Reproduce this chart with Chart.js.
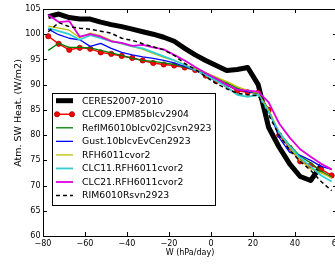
<!DOCTYPE html>
<html>
<head>
<meta charset="utf-8">
<script src="https://cdn.jsdelivr.net/npm/chart.js@4.4.1/dist/chart.umd.min.js"></script>
<style>
html,body{margin:0;padding:0;background:#fff;overflow:hidden;width:335px;height:264px;}
#wrap{position:relative;width:335px;height:264px;overflow:hidden;}
canvas{position:absolute;left:0;top:0;}
</style>
</head>
<body>
<div id="wrap"><canvas id="c" width="345" height="264" style="width:345px;height:264px"></canvas></div>
<script>
// W bins (hPa/day)
const wBins = [-77.5,-72.5,-67.5,-62.5,-57.5,-52.5,-47.5,-42.5,-37.5,-32.5,-27.5,-22.5,-17.5,-12.5,-7.5,-2.5,2.5,7.5,12.5,17.5,22.5,27.5,32.5,37.5,42.5,47.5,52.5,57.5];

const ceres   = [103.5,104.0,103.3,103.0,103.0,102.4,101.9,101.5,101.0,100.5,100.0,99.4,98.6,97.2,95.9,94.8,93.8,92.8,93.0,93.4,90.0,81.5,77.6,74.3,71.8,71.0,74.0,null];
const clc09   = [99.6,98.1,96.9,97.3,97.1,96.4,96.1,95.7,95.3,94.8,94.3,94.0,93.8,93.4,92.9,91.8,90.7,90.0,88.8,88.5,88.4,85.0,80.0,77.5,74.8,74.0,73.2,72.0];
const refim   = [96.8,98.2,97.4,97.4,97.3,96.8,96.3,95.8,95.2,94.8,94.6,94.3,94.0,93.5,92.9,92.3,91.3,90.4,89.3,88.6,88.2,84.5,80.5,78.0,75.8,74.5,72.8,71.7];
const gust    = [101.0,99.9,99.2,98.9,97.6,98.2,97.2,96.4,95.9,95.5,95.2,94.8,94.3,93.6,92.9,92.0,91.0,90.0,89.0,88.6,88.4,85.0,79.5,76.6,76.0,75.0,73.8,73.2];
const rfh     = [101.6,101.2,100.8,99.3,100.2,99.7,98.8,98.1,97.6,97.0,96.2,95.4,94.8,94.0,93.2,92.4,91.5,90.6,89.6,88.8,88.3,85.0,80.5,77.5,75.0,73.3,72.5,71.5];
const clc11   = [101.2,100.6,100.0,98.9,99.8,99.2,98.6,98.2,97.6,97.2,96.4,95.6,94.8,93.9,92.9,91.9,90.8,89.6,88.0,87.6,88.0,84.5,80.5,77.8,75.5,73.8,72.0,70.8];
const clc21   = [103.8,102.4,102.6,99.5,100.0,99.5,98.6,98.3,97.7,97.9,97.4,97.0,95.9,94.8,93.5,92.3,91.2,90.0,89.0,88.8,88.6,86.5,82.3,79.5,77.2,75.7,74.3,73.2];
const rim     = [100.5,102.3,101.5,101.2,101.0,100.6,100.2,99.2,98.8,98.1,97.5,96.9,95.8,94.2,93.0,91.6,90.2,89.2,88.3,88.0,87.8,84.0,80.0,77.0,74.8,73.0,70.8,69.0];

const seriesNames = ["CERES2007-2010","CLC09.EPM85blcv2904","RefIM6010blcv02JCsvn2923","Gust.10blcvEvCen2923","RFH6011cvor2","CLC11.RFH6011cvor2","CLC21.RFH6011cvor2","RIM6010Rsvn2923"];
const xTicks = [-80,-60,-40,-20,0,20,40,60];
const yTicks = [60,65,70,75,80,85,90,95,100,105];
const xTitle = "W (hPa/day)";
const yTitle = "Atm. SW Heat. (W/m2)";

const seriesValues = [ceres, clc09, refim, gust, rfh, clc11, clc21, rim];
const styles = [
  {color:'#000000', width:5, dash:[], marker:false},
  {color:'#ff0000', width:1.5, dash:[], marker:true},
  {color:'#008000', width:1.3, dash:[], marker:false},
  {color:'#0000ff', width:1.3, dash:[], marker:false},
  {color:'#bfbf00', width:1.3, dash:[], marker:false},
  {color:'#30d0d0', width:1.8, dash:[], marker:false},
  {color:'#dd00dd', width:1.8, dash:[], marker:false},
  {color:'#000000', width:1.5, dash:[4,3], marker:false}
];

const datasets = seriesValues.map((vals, i) => ({
  label: seriesNames[i],
  data: wBins.map((w, j) => ({x: w, y: vals[j]})),
  borderColor: styles[i].color,
  backgroundColor: styles[i].color,
  borderWidth: styles[i].width,
  borderDash: styles[i].dash,
  borderJoinStyle: 'round',
  borderCapStyle: 'butt',
  pointRadius: styles[i].marker ? 2.6 : 0,
  pointBackgroundColor: '#ff0000',
  pointBorderColor: '#aa0000',
  pointBorderWidth: 0.8,
  tension: 0,
  spanGaps: false,
  fill: false,
  order: seriesValues.length - i
}));

const fmt = v => (v < 0 ? '\u2212' + Math.abs(v) : String(v));

const framePlugin = {
  id: 'frame',
  afterDatasetsDraw(chart) {
    const ctx = chart.ctx, a = chart.chartArea;
    const xs = chart.scales.x, ys = chart.scales.y;
    ctx.save();
    ctx.strokeStyle = '#000';
    ctx.lineWidth = 1;
    ctx.setLineDash([]);
    ctx.strokeRect(Math.round(a.left) + 0.5, Math.round(a.top) + 0.5, Math.round(a.right - a.left), Math.round(a.bottom - a.top));
    ctx.beginPath();
    xTicks.forEach(v => {
      const px = Math.round(xs.getPixelForValue(v)) + 0.5;
      ctx.moveTo(px, a.bottom); ctx.lineTo(px, a.bottom - 4);
      ctx.moveTo(px, a.top); ctx.lineTo(px, a.top + 4);
    });
    yTicks.forEach(v => {
      const py = Math.round(ys.getPixelForValue(v)) + 0.5;
      ctx.moveTo(a.left, py); ctx.lineTo(a.left + 4, py);
      ctx.moveTo(a.right, py); ctx.lineTo(a.right - 4, py);
    });
    ctx.stroke();

    // legend
    const lx = 52.5, ly = 93.5, lw = 163, lh = 112;
    ctx.fillStyle = '#fff';
    ctx.fillRect(lx, ly, lw, lh);
    ctx.strokeRect(lx, ly, lw, lh);
    ctx.font = '9.3px "DejaVu Sans"';
    ctx.textBaseline = 'middle';
    ctx.textAlign = 'left';
    seriesNames.forEach((name, i) => {
      const yy = 100.7 + i * 13.55;
      const st = styles[i];
      ctx.beginPath();
      ctx.strokeStyle = st.color;
      ctx.lineWidth = st.width;
      ctx.setLineDash(st.dash);
      ctx.moveTo(56, yy); ctx.lineTo(73, yy);
      ctx.stroke();
      ctx.setLineDash([]);
      if (st.marker) {
        [57, 72].forEach(mx => {
          ctx.beginPath();
          ctx.arc(mx, yy, 2.6, 0, Math.PI * 2);
          ctx.fillStyle = '#ff0000';
          ctx.fill();
          ctx.lineWidth = 0.8;
          ctx.strokeStyle = '#aa0000';
          ctx.stroke();
        });
      }
      ctx.fillStyle = '#000';
      ctx.fillText(name, 82, yy + 0.5);
    });

    // axis titles
    ctx.fillStyle = '#000';
    ctx.font = '8px "DejaVu Sans"';
    ctx.textAlign = 'center';
    ctx.textBaseline = 'middle';
    ctx.fillText(xTitle, 190, 253);
    ctx.font = '9.5px "DejaVu Sans"';
    ctx.translate(19, 113);
    ctx.rotate(-Math.PI / 2);
    ctx.fillText(yTitle, 0, 0);
    ctx.restore();
  }
};

new Chart(document.getElementById('c'), {
  type: 'line',
  data: { datasets },
  plugins: [framePlugin],
  options: {
    responsive: false,
    animation: false,
    events: [],
    layout: { padding: { top: 9, left: 0, right: 0, bottom: 0 } },
    plugins: { legend: { display: false }, tooltip: { enabled: false }, title: { display: false } },
    scales: {
      x: {
        type: 'linear', min: -80, max: 60,
        afterBuildTicks: s => { s.ticks = xTicks.map(v => ({value: v})); },
        afterFit: s => { s.height = 28; },
        ticks: { callback: fmt, color: '#000', font: { family: 'DejaVu Sans', size: 8 }, padding: 3, maxRotation: 0, autoSkip: false },
        grid: { display: false, drawTicks: false },
        border: { display: false }
      },
      y: {
        type: 'linear', min: 60, max: 105,
        afterBuildTicks: s => { s.ticks = yTicks.map(v => ({value: v})); },
        afterFit: s => { s.width = 43; },
        ticks: { callback: fmt, color: '#000', font: { family: 'DejaVu Sans', size: 8 }, padding: 2.5, autoSkip: false },
        grid: { display: false, drawTicks: false },
        border: { display: false }
      }
    }
  }
});
</script>
</body>
</html>
